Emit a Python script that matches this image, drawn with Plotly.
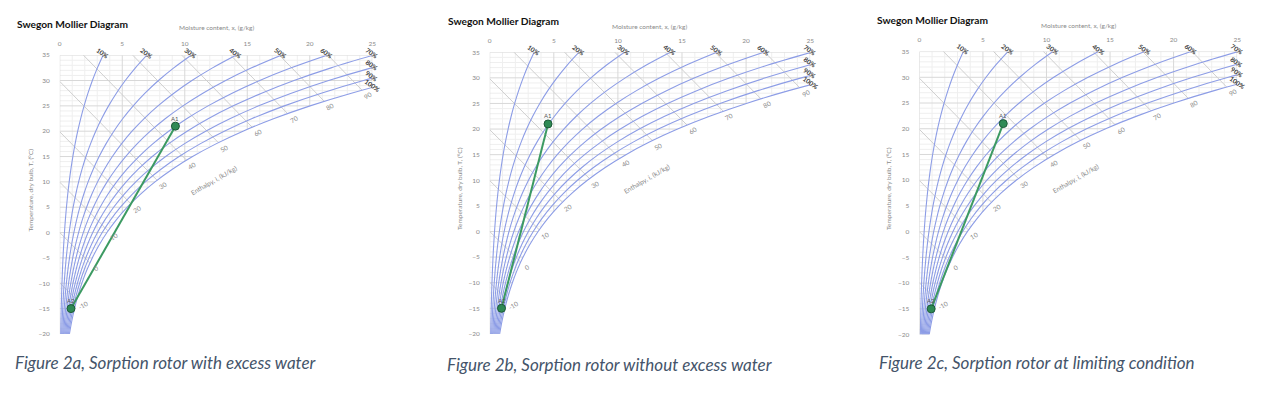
import numpy as np
import plotly.graph_objects as go

# ------------------------------------------------------------------ data
# saturation vapour pressure table (Pa) read for the chart's temperature span
SAT_T = [-20, -17.5, -15, -12.5, -10, -7.5, -5, -2.5, 0, 2.5, 5, 7.5, 10,
         12.5, 15, 17.5, 20, 22.5, 25, 27.5, 30, 32.5, 35]
SAT_PS = [126.0, 155.9, 191.9, 235.2, 287.0, 348.8, 422.2, 508.9, 611.2,
          731.2, 871.7, 1035.6, 1226.0, 1446.7, 1701.7, 1995.5, 2332.5,
          2718.9, 3160.1, 3662.9, 4233.7, 4880.7, 5612.4]
P_ATM = 101325.0

RH_LEVELS = [0.1, 0.2, 0.3, 0.4, 0.5, 0.6, 0.7, 0.8, 0.9, 1.0]
RH_LABELS = ["10%", "20%", "30%", "40%", "50%", "60%", "70%", "80%", "90%", "100%"]
ENTHALPY = [-10, 0, 10, 20, 30, 40, 50, 60, 70, 80, 90]
X_TICKS = [0, 5, 10, 15, 20, 25]
Y_TICKS = [-20, -15, -10, -5, 0, 5, 10, 15, 20, 25, 30, 35]

A1_X = [9.25, 4.55, 6.6]
A1_T = [21, 21, 21]
A2_X = [0.9, 0.92, 0.93]
A2_T = [-15, -15, -15]
POINT_NAMES = ["A1", "A2"]

CHART_TITLE = "Swegon Mollier Diagram"
X_TITLE = "Moisture content, x, (g/kg)"
Y_TITLE = "Temperature, dry bulb, T, (°C)"
H_TITLE = "Enthalpy, i, (kJ/kg)"
CAPTIONS = ["Figure 2a, Sorption rotor with excess water",
            "Figure 2b, Sorption rotor without excess water",
            "Figure 2c, Sorption rotor at limiting condition"]

# ------------------------------------------------------------------ layout (page pixels)
OFF = 8  # default page body margin
W, H = 1280 - 2 * OFF, 393 - 2 * OFF
BOX = [(58, 372, 52, 336), (490, 812, 49, 336), (921.7, 1241, 48.3, 336.7)]
TITLE_POS = [(13, 20), (446, 17), (877, 16)]
XT_Y = [24, 23, 22]
YT_X = [29, 459, 890]
CAP_POS = [(11, 365), (445, 367), (879, 365)]

RH_COLOR = "#8d9de6"
GRID_MINOR = "#efefef"
GRID_MAJOR = "#d8d8d8"
H_COLOR = "#cfcfcf"
TXT_GREY = "#8a8a8a"
GREEN = "#3c9a62"

# ------------------------------------------------------------------ helpers
lnps = np.log(np.array(SAT_PS))


def ps(T):
    return np.exp(np.interp(T, SAT_T, lnps))


def xs(T, phi=1.0):
    p = phi * ps(T)
    return 622.0 * p / (P_ATM - p)


Tf = np.linspace(-20, 35, 2201)
xsat_f = xs(Tf)
hsat_f = 1.006 * Tf + xsat_f * (2.501 + 0.00186 * Tf)

fig = go.Figure()
annotations = []


def PX(px):
    return (px - OFF) / W


def PY(py):
    return 1 - (py - OFF) / H


for i in range(3):
    xr = "x" if i == 0 else f"x{i+1}"
    yr = "y" if i == 0 else f"y{i+1}"
    xk = "xaxis" if i == 0 else f"xaxis{i+1}"
    yk = "yaxis" if i == 0 else f"yaxis{i+1}"
    l, r, t, b = BOX[i]

    # grid (only unsaturated region)
    for major in (False, True):
        gx, gy = [], []
        for T in range(-20, 36):
            if (T % 5 == 0) != major:
                continue
            gx += [0, min(25.0, float(xs(T))), None]
            gy += [T, T, None]
        for xv in range(0, 26):
            if (xv % 5 == 0) != major:
                continue
            tl = -20.0 if xv <= xsat_f[0] else float(np.interp(xv, xsat_f, Tf))
            gx += [xv, xv, None]
            gy += [tl, 35, None]
        fig.add_trace(go.Scatter(x=gx, y=gy, mode="lines", xaxis=xr, yaxis=yr,
                                 line=dict(color=GRID_MAJOR if major else GRID_MINOR, width=1),
                                 hoverinfo="skip", showlegend=False))

    # enthalpy lines
    hx, hy = [], []
    h_ends = []
    for h in ENTHALPY:
        Te = float(np.interp(h, hsat_f, Tf))
        xe = float(xs(Te))
        h_ends.append((xe, Te))
        hx += [0, xe, None]
        hy += [h / 1.006, Te, None]
    fig.add_trace(go.Scatter(x=hx, y=hy, mode="lines", xaxis=xr, yaxis=yr,
                             line=dict(color=H_COLOR, width=1),
                             hoverinfo="skip", showlegend=False))

    # RH curves
    for phi, lab in zip(RH_LEVELS, RH_LABELS):
        cx = [622.0 * phi * p / (P_ATM - phi * p) for p in SAT_PS]
        fig.add_trace(go.Scatter(x=cx, y=SAT_T, mode="lines", xaxis=xr, yaxis=yr,
                                 line=dict(color=RH_COLOR, width=1.1, shape="spline"),
                                 hoverinfo="skip", showlegend=False))
        xf = xs(Tf, phi)
        if xf[-1] <= 25:
            ex, ey = float(xf[-1]), 35.0
        else:
            ex, ey = 25.0, float(np.interp(25.0, xf, Tf))
        annotations.append(dict(x=ex, y=ey, xref=xr, yref=yr, text=lab, showarrow=False,
                                textangle=35, yshift=2, xanchor="center", yanchor="middle",
                                font=dict(size=6.5, color="#3a3a3a", family="Lato", weight="bold")))

    # enthalpy labels
    for h, (xe, Te) in zip(ENTHALPY, h_ends):
        annotations.append(dict(x=xe, y=Te, xref=xr, yref=yr, text=str(h), showarrow=False,
                                textangle=-30, xshift=6, yshift=-5.5,
                                xanchor="center", yanchor="middle",
                                font=dict(size=6.5, color=TXT_GREY, family="Lato")))
    annotations.append(dict(x=12.3, y=10.3, xref=xr, yref=yr, text=H_TITLE, showarrow=False,
                            textangle=-30, xanchor="center", yanchor="middle",
                            font=dict(size=6.5, color=TXT_GREY, family="Lato")))

    # process line
    fig.add_trace(go.Scatter(x=[A2_X[i], A1_X[i]], y=[A2_T[i], A1_T[i]], mode="lines+markers",
                             xaxis=xr, yaxis=yr,
                             line=dict(color=GREEN, width=2),
                             marker=dict(size=8, color="#2f8a55", line=dict(color="#1d5a37", width=1)),
                             hoverinfo="skip", showlegend=False, cliponaxis=False))
    for nm, px_, py_ in zip(POINT_NAMES, [A1_X[i], A2_X[i]], [A1_T[i], A2_T[i]]):
        annotations.append(dict(x=px_, y=py_, xref=xr, yref=yr, text=nm, showarrow=False,
                                yshift=8, xanchor="center", yanchor="middle",
                                font=dict(size=6, color="#555", family="Lato")))

    # axes
    fig.layout[xk] = dict(domain=[PX(l), PX(r)], range=[0, 25], side="top",
                          anchor=yr, tickvals=X_TICKS, showgrid=False, zeroline=False,
                          showline=False, ticks="", ticklabelstandoff=7,
                          tickfont=dict(size=6.5, color=TXT_GREY, family="Lato"), fixedrange=True)
    fig.layout[yk] = dict(domain=[PY(b), PY(t)], range=[-20, 35],
                          anchor=xr, tickvals=Y_TICKS, showgrid=False, zeroline=False,
                          showline=False, ticks="", ticklabelstandoff=9,
                          tickfont=dict(size=6.5, color=TXT_GREY, family="Lato"), fixedrange=True)

    # titles
    annotations.append(dict(x=PX((l + r) / 2), y=PY(XT_Y[i]), xref="paper", yref="paper",
                            text=X_TITLE, showarrow=False, xanchor="center", yanchor="middle",
                            font=dict(size=6.5, color=TXT_GREY, family="Lato")))
    annotations.append(dict(x=PX(YT_X[i]), y=PY((t + b) / 2 - 5), xref="paper", yref="paper",
                            text=Y_TITLE, showarrow=False, textangle=-90,
                            xanchor="center", yanchor="middle",
                            font=dict(size=6.5, color=TXT_GREY, family="Lato")))
    tx, ty = TITLE_POS[i]
    annotations.append(dict(x=PX(tx), y=PY(ty), xref="paper", yref="paper",
                            text=CHART_TITLE, showarrow=False, xanchor="left", yanchor="middle",
                            font=dict(size=10.2, color="#111", family="Lato", weight="bold")))
    cx_, cy_ = CAP_POS[i]
    annotations.append(dict(x=PX(cx_), y=PY(cy_), xref="paper", yref="paper",
                            text=f"<i>{CAPTIONS[i]}</i>", showarrow=False,
                            xanchor="left", yanchor="middle",
                            font=dict(size=17, color="#44546a", family="Lato")))

fig.update_layout(width=W, height=H, margin=dict(l=0, r=0, t=0, b=0),
                  paper_bgcolor="white", plot_bgcolor="white",
                  annotations=annotations, showlegend=False)

fig.write_html("out.html")
